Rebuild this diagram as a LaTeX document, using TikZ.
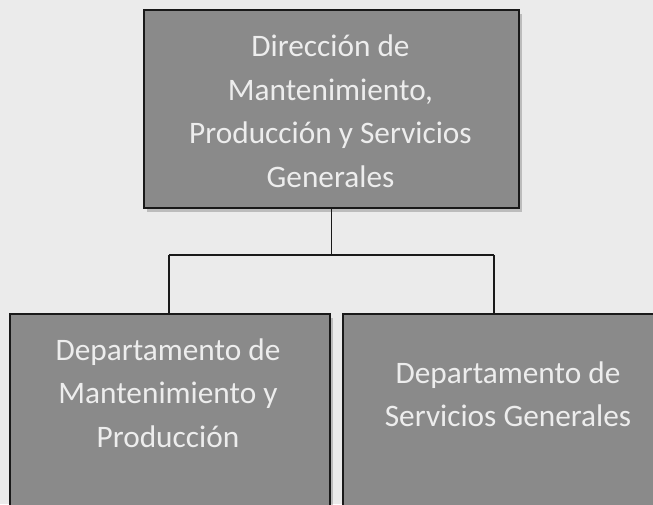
\documentclass[tikz,border=0pt]{standalone}
\usepackage{fontspec}
\setmainfont{Carlito}
\usetikzlibrary{shadows}
\definecolor{bg}{HTML}{EBEBEB}
\definecolor{boxfill}{HTML}{8A8A8A}
\definecolor{txtcol}{HTML}{EDEDED}
\tikzset{
  orgbox/.style={draw=black!90, line width=1.8pt, fill=boxfill, rectangle, inner sep=0pt,
    drop shadow={shadow xshift=3pt, shadow yshift=-4pt, opacity=0.35, fill=black!60}},
  orgtext/.style={text=txtcol, align=center, font=\fontsize{31.3}{43.5}\selectfont, inner sep=0pt},
  conn/.style={draw=black!90, line width=1.7pt}
}
\begin{document}
\begin{tikzpicture}[x=1pt,y=1pt]
\useasboundingbox (0,0) rectangle (653,-504);
\fill[bg] (0,0) rectangle (653,-504);
\clip (0,0) rectangle (653,-504);
% boxes
\node[orgbox, anchor=north west, minimum width=375pt, minimum height=198pt] (top) at (143,-9) {};
\node[orgbox, anchor=north west, minimum width=320pt, minimum height=230pt] (left) at (9,-313) {};
\node[orgbox, anchor=north west, minimum width=333pt, minimum height=230pt] (right) at (342,-313) {};
% texts
\node[orgtext] (toptext) at (330.5,-111) {Dirección de\\Mantenimiento,\\Producción y Servicios\\Generales};
\node[orgtext] (lefttext) at (168,-393) {Departamento de\\Mantenimiento y\\Producción};
\node[orgtext] (righttext) at (508,-394) {Departamento de\\Servicios Generales};
% connectors
\coordinate (jl) at (169,-255);
\coordinate (jr) at (494,-255);
\coordinate (jc) at (top.south |- jl);
\draw[conn] (top.south) -- (jc);
\draw[conn] (jl) -- (jr);
\draw[conn] (jl) -- (jl |- left.north);
\draw[conn] (jr) -- (jr |- right.north);
\end{tikzpicture}
\end{document}
